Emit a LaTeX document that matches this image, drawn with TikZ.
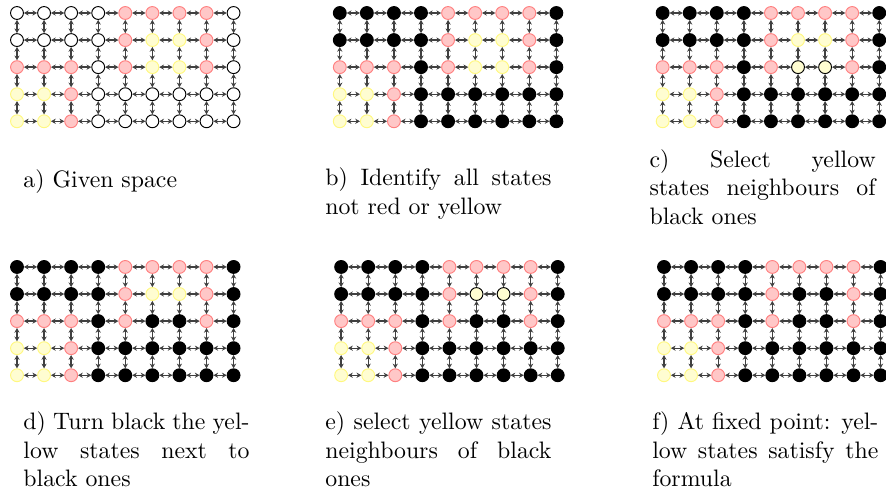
\documentclass[tikz,border=0pt]{standalone}
\usetikzlibrary{arrows.meta}
\begin{document}
\begin{tikzpicture}[
    state/.style={circle,draw,minimum size=0.19cm,inner sep=0pt},
    W/.style={state,fill=white},
    B/.style={state,fill=black},
    R/.style={state,draw=red!50,fill=red!22},
    Y/.style={state,draw=yellow!50,fill=yellow!18},
    S/.style={state,draw=black,fill=yellow!18},
    link/.style={{Stealth[length=2pt,width=2.2pt]}-{Stealth[length=2pt,width=2.2pt]},black!75,line width=0.55pt},
    caption/.style={text width=3.34cm,align=justify,inner sep=0pt,anchor=north west}
  ]
  \useasboundingbox (0,0) rectangle (13.09,-7.28);
  % one grid per step, states listed row by row (9 per row)
  \foreach \p/\x/\y/\states in {
      a/0.251/-0.192/{W,W,W,W,R,R,R,R,W,W,W,W,W,R,Y,Y,R,W,R,R,R,W,R,Y,Y,R,W,Y,Y,R,W,W,W,W,W,W,Y,Y,R,W,W,W,W,W,W},
      b/5.020/-0.192/{B,B,B,B,R,R,R,R,B,B,B,B,B,R,Y,Y,R,B,R,R,R,B,R,Y,Y,R,B,Y,Y,R,B,B,B,B,B,B,Y,Y,R,B,B,B,B,B,B},
      c/9.790/-0.192/{B,B,B,B,R,R,R,R,B,B,B,B,B,R,Y,Y,R,B,R,R,R,B,R,S,S,R,B,Y,Y,R,B,B,B,B,B,B,Y,Y,R,B,B,B,B,B,B},
      d/0.251/-3.944/{B,B,B,B,R,R,R,R,B,B,B,B,B,R,Y,Y,R,B,R,R,R,B,R,B,B,R,B,Y,Y,R,B,B,B,B,B,B,Y,Y,R,B,B,B,B,B,B},
      e/5.040/-3.944/{B,B,B,B,R,R,R,R,B,B,B,B,B,R,S,S,R,B,R,R,R,B,R,B,B,R,B,Y,Y,R,B,B,B,B,B,B,Y,Y,R,B,B,B,B,B,B},
      f/9.810/-3.944/{B,B,B,B,R,R,R,R,B,B,B,B,B,R,B,B,R,B,R,R,R,B,R,B,B,R,B,Y,Y,R,B,B,B,B,B,B,Y,Y,R,B,B,B,B,B,B}} {
    \foreach \s [count=\i from 0] in \states {
      \pgfmathtruncatemacro\col{mod(\i,9)}
      \pgfmathtruncatemacro\row{div(\i,9)}
      \node (\p\col\row) [\s] at (\x+0.4*\col,\y-0.4*\row) {};
    }
    \foreach \row in {0,...,4} {
      \foreach \col in {0,...,7} {
        \pgfmathtruncatemacro\nxt{\col+1}
        \draw [link] (\p\col\row) -- (\p\nxt\row);
      }
    }
    \foreach \col in {0,...,8} {
      \foreach \row in {0,...,3} {
        \pgfmathtruncatemacro\nxt{\row+1}
        \draw [link] (\p\col\row) -- (\p\col\nxt);
      }
    }
  }
  \node (cap-a) [caption] at (0.34,-2.50) {a) Given space};
  \node (cap-b) [caption] at (4.80,-2.47) {b) Identify all states not red or yellow};
  \node (cap-c) [caption] at (9.59,-2.20) {c) Select yellow\linebreak states neighbours of black ones};
  \node (cap-d) [caption] at (0.34,-6.08) {d) Turn black the yellow states next to black ones};
  \node (cap-e) [caption] at (4.80,-6.08) {e) select yellow states neighbours of black ones};
  \node (cap-f) [caption] at (9.63,-6.08) {f) At fixed point: yellow states satisfy the formula};
\end{tikzpicture}
\end{document}
